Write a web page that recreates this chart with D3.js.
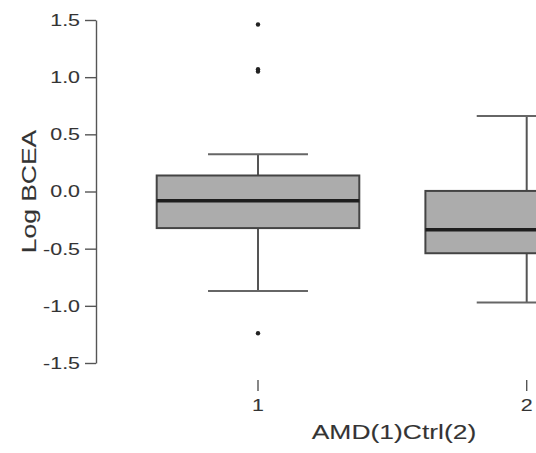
<!DOCTYPE html>
<html>
<head>
<meta charset="utf-8">
<script src="https://cdn.jsdelivr.net/npm/d3@7/dist/d3.min.js"></script>
<style>
  html, body { margin: 0; padding: 0; background: #fff; }
  svg { display: block; }
  text { font-family: "Liberation Sans", Arial, sans-serif; fill: #333; stroke: #555; stroke-width: 0.12px; }
</style>
</head>
<body>
<svg id="chart" width="536" height="453"></svg>
<script>
// ---- data ----
const groups = [1, 2];
const groupLabels = ["1", "2"];
const whiskerLow = [-0.87, -0.97];
const q1 = [-0.32, -0.54];
const median = [-0.08, -0.335];
const q3 = [0.14, 0.005];
const whiskerHigh = [0.325, 0.66];
const outliers = [[1.46, 1.07, 1.05, -1.24], []];
const yTicks = [-1.5, -1.0, -0.5, 0.0, 0.5, 1.0, 1.5];
const xTitle = "AMD(1)Ctrl(2)";
const yTitle = "Log BCEA";

// ---- layout ----
const svg = d3.select("#chart");
const stretch = 1.26;
const x = d3.scaleLinear().domain([1, 2]).range([258, 526.7]);
const y = d3.scaleLinear().domain([-1.5, 1.5]).range([363, 20]);
const unit = x(2) - x(1);
const boxHalf = unit * 0.377;
const capHalf = unit * 0.186;

// y axis
const yAxis = d3.axisLeft(y).tickValues(yTicks).tickSize(11).tickSizeOuter(0).tickPadding(5)
  .tickFormat(d => d.toFixed(1));
const gy = svg.append("g").attr("transform", "translate(96,0)").call(yAxis);
gy.select(".domain").attr("stroke", "#555").attr("stroke-width", 1.4);
gy.selectAll(".tick line").attr("stroke", "#555").attr("stroke-width", 1.4);
gy.selectAll(".tick text")
  .attr("font-size", 17).attr("font-family", null).attr("fill", "#333")
  .each(function() {
    const t = d3.select(this);
    t.attr("x", +t.attr("x") / stretch).attr("transform", `scale(${stretch},1)`);
  });

// x ticks (no axis line)
const gx = svg.append("g");
gx.selectAll("line.xt").data(groups).join("line")
  .attr("x1", d => x(d)).attr("x2", d => x(d))
  .attr("y1", 380).attr("y2", 391)
  .attr("stroke", "#555").attr("stroke-width", 1.4);
gx.selectAll("g.xl").data(groups).join("g")
  .attr("transform", d => `translate(${x(d)},411) scale(${stretch},1)`)
  .append("text").attr("text-anchor", "middle").attr("font-size", 17)
  .text((d, i) => groupLabels[i]);

// titles
svg.append("g").attr("transform", `translate(394,439) scale(${stretch},1)`)
  .append("text").attr("text-anchor", "middle").attr("font-size", 21).text(xTitle);
svg.append("g").attr("transform", `translate(36,${(y(1.5)+y(-1.5))/2}) rotate(-90) scale(${stretch},1)`)
  .append("text").attr("text-anchor", "middle").attr("font-size", 21).text(yTitle);

// boxes
const boxes = svg.append("g");
groups.forEach((g, i) => {
  const cx = x(g);
  const b = boxes.append("g");
  // whiskers
  b.append("line").attr("x1", cx).attr("x2", cx).attr("y1", y(q3[i])).attr("y2", y(whiskerHigh[i]))
    .attr("stroke", "#555").attr("stroke-width", 2);
  b.append("line").attr("x1", cx).attr("x2", cx).attr("y1", y(q1[i])).attr("y2", y(whiskerLow[i]))
    .attr("stroke", "#555").attr("stroke-width", 2);
  b.append("line").attr("x1", cx - capHalf).attr("x2", cx + capHalf).attr("y1", y(whiskerHigh[i])).attr("y2", y(whiskerHigh[i]))
    .attr("stroke", "#666").attr("stroke-width", 2);
  b.append("line").attr("x1", cx - capHalf).attr("x2", cx + capHalf).attr("y1", y(whiskerLow[i])).attr("y2", y(whiskerLow[i]))
    .attr("stroke", "#666").attr("stroke-width", 2);
  // box
  b.append("rect").attr("x", cx - boxHalf).attr("width", 2 * boxHalf)
    .attr("y", y(q3[i])).attr("height", y(q1[i]) - y(q3[i]))
    .attr("fill", "#acacac").attr("stroke", "#444").attr("stroke-width", 2);
  // median
  b.append("line").attr("x1", cx - boxHalf).attr("x2", cx + boxHalf).attr("y1", y(median[i])).attr("y2", y(median[i]))
    .attr("stroke", "#1e1e1e").attr("stroke-width", 3.5);
  // outliers
  b.selectAll("circle").data(outliers[i]).join("circle")
    .attr("cx", cx).attr("cy", d => y(d)).attr("r", 2.2).attr("fill", "#222");
});
</script>
</body>
</html>
